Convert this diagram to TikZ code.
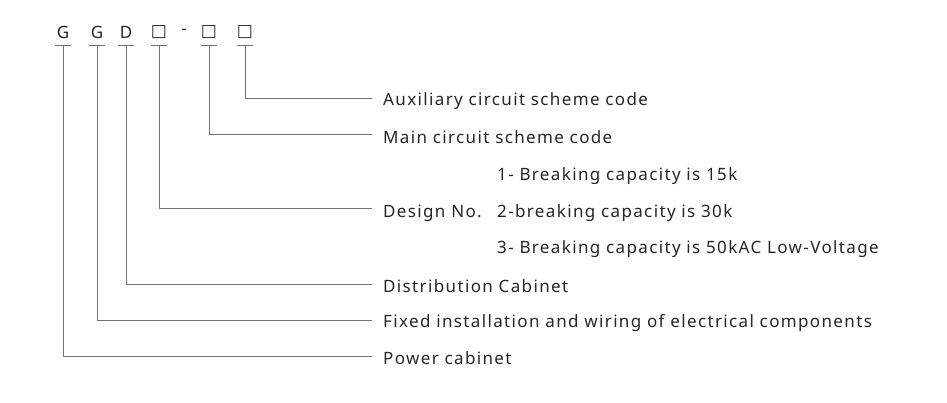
\documentclass[tikz,border=0pt]{standalone}
\usepackage{fontspec}
\setmainfont{Noto Sans}[LetterSpace=8]
\newfontfamily\djv{DejaVu Sans}
\begin{document}
\begin{tikzpicture}[x=1pt,y=-1pt,
  ln/.style={draw=black!55,line width=0.8pt},
  lbl/.style={anchor=west,inner sep=0pt,font=\fontsize{17}{19}\selectfont,text=black!85},
  ch/.style={inner sep=0pt,font=\fontsize{17}{19}\selectfont,text=black!85}]
\useasboundingbox (0,0) rectangle (947,402);
\foreach \n/\x/\t in {a/63/G,b/97/G,c/126/D,d/159/{{\djv □}},f/209/{{\djv □}},g/245/{{\djv □}}}{
  \node[ch] (\n) at (\x,32) {\t};
  \draw[ln] (\x-8,45) -- (\x+8,45);
  \coordinate (\n0) at (\x,45);
}
\node[ch] (dash) at (184,32) {-};
\node[lbl] (t1) at (383,101) {Auxiliary circuit scheme code};
\node[lbl] (t2) at (383,137) {Main circuit scheme code};
\node[lbl] (t3) at (383,213) {Design No.};
\node[lbl] (s1) at (497,176) {1- Breaking capacity is 15k};
\node[lbl] (s2) at (497,213) {2-breaking capacity is 30k};
\node[lbl] (s3) at (497,249) {3- Breaking capacity is 50kAC Low-Voltage};
\node[lbl] (t4) at (383,286) {Distribution Cabinet};
\node[lbl] (t5) at (383,323) {Fixed installation and wiring of electrical components};
\node[lbl] (t6) at (383,358) {Power cabinet};
\draw[ln] (g0) |- (372,98);
\draw[ln] (f0) |- (372,134);
\draw[ln] (d0) |- (372,208);
\draw[ln] (c0) |- (372,284);
\draw[ln] (b0) |- (372,320);
\draw[ln] (a0) |- (372,356);
\end{tikzpicture}
\end{document}
